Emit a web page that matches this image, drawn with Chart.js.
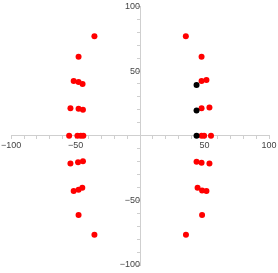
<!DOCTYPE html>
<html>
<head>
<meta charset="utf-8">
<script src="https://cdn.jsdelivr.net/npm/chart.js@4"></script>
<style>
  html, body { margin: 0; padding: 0; background: #fff; }
  #wrap { width: 278px; height: 273px; }
</style>
</head>
<body>
<div id="wrap"><canvas id="scatterChart"></canvas></div>
<script>
// Red points (all four quadrants)
const redX = [
  35.5, 47.7, 47.7, 51.5, 47.7, 53.8, 47.7, 49.7, 55.0,
  -35.4, -47.7, -44.6, -47.7, -51.5, -44.3, -47.7, -54.0, -44.0, -46.0, -48.6, -55.0,
  -54.0, -48.1, -44.3, -51.5, -47.7, -44.8, -47.7, -35.4,
  43.8, 47.7, 53.8, 44.6, 48.1, 51.5, 48.1, 35.6
];
const redY = [
  77.0, 61.0, 42.3, 43.1, 21.3, 21.8, 0, 0, 0,
  77.0, 61.0, 40.0, 41.5, 42.3, 20.0, 20.8, 21.3, 0, 0, 0, 0,
  -21.5, -20.5, -19.8, -42.8, -41.8, -40.2, -61.3, -76.7,
  -20.2, -21.0, -21.5, -40.2, -42.3, -42.8, -61.3, -76.7
];
// Black points (upper right, inner column)
const blackX = [43.8, 43.8, 43.8];
const blackY = [0, 19.5, 39.3];

const axisMin = -100;
const axisMax = 100;
const labelledTicks = [-100, -50, 50, 100];

function toPoints(xs, ys) {
  return xs.map((x, i) => ({ x: x, y: ys[i] }));
}

function tickText(value) {
  if (!labelledTicks.includes(value)) return "";
  return value < 0 ? "\u2212" + Math.abs(value) : String(value);
}

const ctx = document.getElementById("scatterChart").getContext("2d");
const scatterChart = new Chart(ctx, {
  type: "scatter",
  data: {
    datasets: [
      {
        label: "black",
        data: toPoints(blackX, blackY),
        backgroundColor: "#000000",
        borderWidth: 0,
        pointRadius: 3,
      },
      {
        label: "red",
        data: toPoints(redX, redY),
        backgroundColor: "#ff0000",
        borderWidth: 0,
        pointRadius: 3,
      },
    ],
  },
  options: {
    responsive: true,
    maintainAspectRatio: false,
    animation: false,
    layout: {
      padding: { left: 8, right: 9, top: 5, bottom: 8 },
    },
    plugins: {
      legend: { display: false },
      tooltip: { enabled: false },
    },
    scales: {
      x: {
        type: "linear",
        min: axisMin,
        max: axisMax,
        position: { y: 0 },
        afterFit: (scale) => { scale.height = 0; },
        border: { color: "#cfcfcf", width: 1 },
        grid: {
          drawOnChartArea: false,
          drawTicks: true,
          tickLength: 3,
          color: "#cfcfcf",
        },
        ticks: {
          stepSize: 10,
          autoSkip: false,
          maxRotation: 0,
          padding: 1,
          color: "#444",
          font: { family: "Liberation Sans", size: 9 },
          callback: (value) => tickText(value),
        },
      },
      y: {
        type: "linear",
        min: axisMin,
        max: axisMax,
        position: { x: 0 },
        afterFit: (scale) => { scale.width = 0; },
        border: { color: "#cfcfcf", width: 1 },
        grid: {
          drawOnChartArea: false,
          drawTicks: true,
          tickLength: 3,
          color: "#cfcfcf",
        },
        ticks: {
          stepSize: 10,
          autoSkip: false,
          padding: 1,
          color: "#444",
          font: { family: "Liberation Sans", size: 9 },
          callback: (value) => tickText(value),
        },
      },
    },
  },
});
</script>
</body>
</html>
